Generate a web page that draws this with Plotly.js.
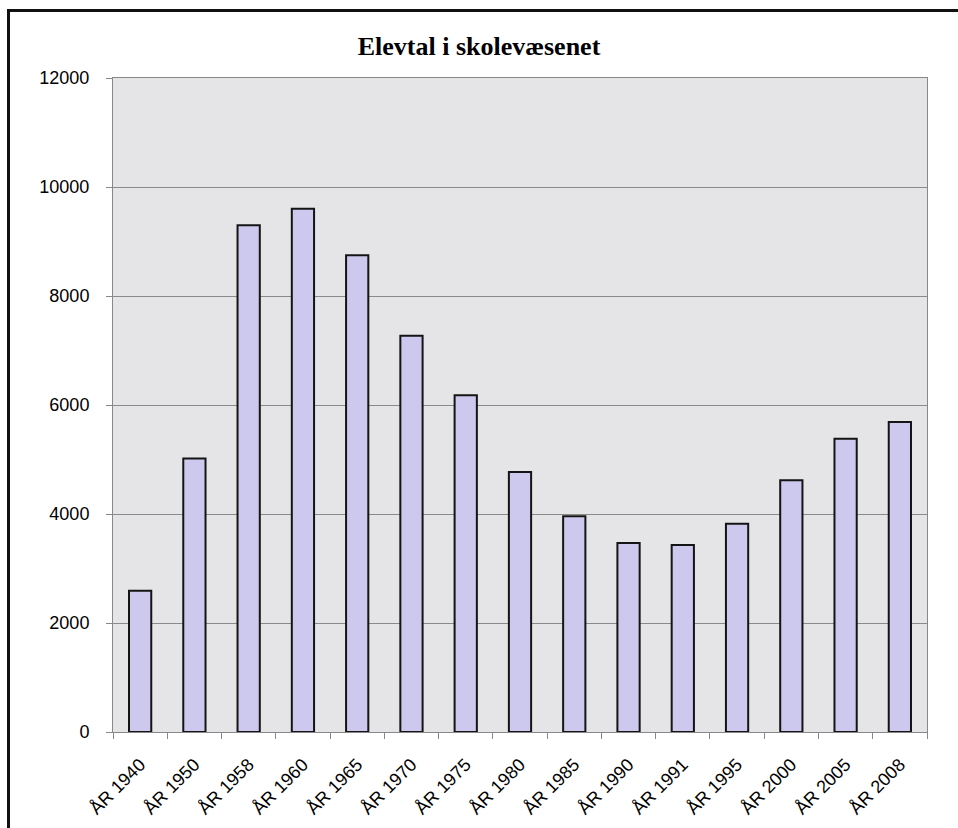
<!DOCTYPE html>
<html>
<head>
<meta charset="utf-8">
<script src="https://cdn.plot.ly/plotly-3.0.1.min.js"></script>
<style>
  html, body { margin: 0; padding: 0; background: #ffffff; }
  #wrap { position: relative; width: 958px; height: 828px; }
  #chart { position: absolute; left: 0; top: 0; width: 958px; height: 828px; }
  #frame { position: absolute; left: 7px; top: 9px; width: 960px; height: 830px;
           border-left: 3px solid #111; border-top: 3px solid #111; pointer-events: none; }
</style>
</head>
<body>
<div id="wrap">
  <div id="chart"></div>
  <div id="frame"></div>
</div>
<script>
const categories = ["ÅR 1940","ÅR 1950","ÅR 1958","ÅR 1960","ÅR 1965","ÅR 1970","ÅR 1975",
                    "ÅR 1980","ÅR 1985","ÅR 1990","ÅR 1991","ÅR 1995","ÅR 2000","ÅR 2005","ÅR 2008"];
const elevtal = [2590, 5020, 9300, 9600, 8750, 7270, 6180, 4770, 3960, 3470, 3430, 3820, 4620, 5380, 5690];
const yTickValues = [0, 2000, 4000, 6000, 8000, 10000, 12000];
const chartTitle = "Elevtal i skolevæsenet";

const trace = {
  type: "bar",
  x: categories,
  y: elevtal,
  marker: { color: "#cdc9ee", line: { color: "#141414", width: 2 } },
  hoverinfo: "x+y"
};

const layout = {
  width: 958,
  height: 828,
  margin: { l: 113, r: 31, t: 78, b: 96, pad: 0 },
  paper_bgcolor: "#ffffff",
  plot_bgcolor: "#e5e5e7",
  bargap: 0.59,
  showlegend: false,
  title: {
    text: chartTitle,
    font: { family: "Liberation Serif, Times New Roman, serif", size: 26, color: "#000000", weight: "bold" },
    x: 0.5, xanchor: "center", y: 0.945, yanchor: "middle"
  },
  font: { family: "Liberation Sans, Arial, sans-serif", color: "#000000" },
  xaxis: {
    type: "category",
    tickangle: -45,
    tickfont: { size: 18, color: "#000000" },
    ticks: "outside",
    tickson: "boundaries",
    ticklen: 6,
    tickcolor: "#888888",
    showline: true,
    linecolor: "#888888",
    linewidth: 1,
    mirror: true,
    showgrid: false,
    zeroline: false,
    ticklabelstandoff: 14
  },
  yaxis: {
    range: [0, 12000],
    tickvals: yTickValues,
    ticktext: yTickValues.map(String),
    tickfont: { size: 18, color: "#000000" },
    ticks: "outside",
    ticklen: 6,
    tickcolor: "#888888",
    showline: true,
    linecolor: "#888888",
    linewidth: 1,
    mirror: true,
    showgrid: true,
    gridcolor: "#8a8a8a",
    gridwidth: 1,
    zeroline: false,
    ticklabelstandoff: 13
  }
};

Plotly.newPlot("chart", [trace], layout, { displayModeBar: false, staticPlot: true });
</script>
</body>
</html>
